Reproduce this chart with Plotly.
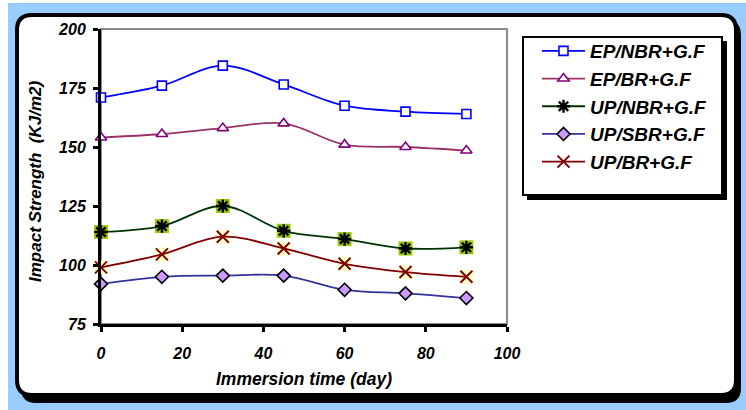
import plotly.graph_objects as go

# ---- data ----
days = [0, 15, 30, 45, 60, 75, 90]
ep_nbr = [171, 176, 184.5, 176.5, 167.5, 165, 164]
ep_br = [154, 155.5, 158, 160, 151, 150, 148.5]
up_nbr = [114, 116.5, 125, 114.5, 111, 107, 107.5]
up_sbr = [92, 95, 95.5, 95.5, 89.5, 88, 86]
up_br = [99, 104.5, 112, 107, 100.5, 97, 95]
series_names = ["EP/NBR+G.F", "EP/BR+G.F", "UP/NBR+G.F", "UP/SBR+G.F", "UP/BR+G.F"]
x_ticks = [0, 20, 40, 60, 80, 100]
y_ticks = [75, 100, 125, 150, 175, 200]

W, H = 746, 410
L, R, T, B = 101, 507, 29, 324  # plot area pixel box
FONT = "Liberation Sans, Arial, sans-serif"


def px(x):
    return (x - L) / (R - L)


def py(y):
    return (B - y) / (B - T)


def rrect(x0, y0, x1, y1, r):
    rx, ry = r / (R - L), r / (B - T)
    X0, X1 = px(x0), px(x1)
    Y0, Y1 = py(y0), py(y1)  # Y0 top (larger), Y1 bottom
    return (f"M{X0+rx},{Y0} L{X1-rx},{Y0} Q{X1},{Y0} {X1},{Y0-ry} "
            f"L{X1},{Y1+ry} Q{X1},{Y1} {X1-rx},{Y1} L{X0+rx},{Y1} "
            f"Q{X0},{Y1} {X0},{Y1+ry} L{X0},{Y0-ry} Q{X0},{Y0} {X0+rx},{Y0} Z")


fig = go.Figure()

common = dict(x=days, mode="lines+markers", line_shape="spline", cliponaxis=False)

# background marker layers (no legend)
fig.add_trace(go.Scatter(x=days, y=up_nbr, mode="markers", cliponaxis=False, showlegend=False,
                         legendgroup="g3", hoverinfo="skip",
                         marker=dict(symbol="square", size=14, color="#99CC00", line=dict(width=0))))
fig.add_trace(go.Scatter(x=days, y=up_br, mode="markers", cliponaxis=False, showlegend=False,
                         legendgroup="g5", hoverinfo="skip",
                         marker=dict(symbol="square", size=14, color="#FFFFCC", line=dict(width=0))))

fig.add_trace(go.Scatter(y=ep_nbr, name=series_names[0], legendgroup="g1", **common,
                         line=dict(color="#0000FF", width=1.8),
                         marker=dict(symbol="square", size=9, color="white",
                                     line=dict(color="#0000FF", width=1.6))))
fig.add_trace(go.Scatter(y=ep_br, name=series_names[1], legendgroup="g2", **common,
                         line=dict(color="#993366", width=1.8),
                         marker=dict(symbol="triangle-up", size=10, color="white",
                                     line=dict(color="#800080", width=1.6))))
fig.add_trace(go.Scatter(y=up_nbr, name=series_names[2], legendgroup="g3", **common,
                         line=dict(color="#003300", width=1.8),
                         marker=dict(symbol="asterisk-open", size=11, color="black",
                                     line=dict(color="black", width=2.4))))
fig.add_trace(go.Scatter(y=up_sbr, name=series_names[3], legendgroup="g4", **common,
                         line=dict(color="#333399", width=1.8),
                         marker=dict(symbol="diamond", size=10, color="#CC99FF",
                                     line=dict(color="black", width=1.6))))
fig.add_trace(go.Scatter(y=up_br, name=series_names[4], legendgroup="g5", **common,
                         line=dict(color="#800000", width=1.8),
                         marker=dict(symbol="x-thin-open", size=12, color="#800000",
                                     line=dict(color="#800000", width=2))))

shapes = [
    # light blue background
    dict(type="rect", xref="paper", yref="paper", x0=px(8), x1=px(W), y0=py(H), y1=py(3),
         fillcolor="#99CCFF", line=dict(width=0), layer="below"),
    # frame shadow
    dict(type="path", xref="paper", yref="paper", path=rrect(21, 20, 741, 403, 15),
         fillcolor="black", line=dict(width=0), layer="below"),
    # white frame
    dict(type="path", xref="paper", yref="paper", path=rrect(17, 15, 736, 395, 15),
         fillcolor="white", line=dict(color="black", width=4), layer="below"),
    # plot border (gray top/right)
    dict(type="rect", xref="paper", yref="paper", x0=0, x1=1, y0=0, y1=1,
         fillcolor="rgba(0,0,0,0)", line=dict(color="#8C8C8C", width=2), layer="below"),
    # legend shadow
    dict(type="rect", xref="paper", yref="paper", x0=px(527), x1=px(727), y0=py(200), y1=py(41),
         fillcolor="black", line=dict(width=0), layer="below"),
    # legend box
    dict(type="rect", xref="paper", yref="paper", x0=px(523), x1=px(722), y0=py(195), y1=py(37),
         fillcolor="white", line=dict(color="black", width=2), layer="below"),
]

fig.update_layout(
    width=W, height=H,
    margin=dict(l=L, r=W - R, t=T, b=H - B),
    paper_bgcolor="white", plot_bgcolor="rgba(0,0,0,0)",
    font=dict(family=FONT, color="black"),
    shapes=shapes,
    showlegend=True,
    legend=dict(x=px(537), y=py(32), xanchor="left", yanchor="top",
                bgcolor="rgba(0,0,0,0)", borderwidth=0,
                font=dict(family=FONT, size=19, color="black", style="italic", weight="bold"),
                tracegroupgap=15, itemwidth=43, traceorder="normal"),
    annotations=[
        dict(text="Impact Strength  (KJ/m2)", xref="paper", yref="paper",
             x=px(35), y=py(181), xanchor="center", yanchor="middle", textangle=-90,
             showarrow=False,
             font=dict(family=FONT, size=17, style="italic", weight="bold", color="black")),
    ],
)

fig.update_xaxes(range=[0, 100], tickvals=x_ticks, ticktext=[str(v) for v in x_ticks],
                 showgrid=False, zeroline=False, showline=True, linecolor="black", linewidth=3,
                 ticks="outside", ticklen=5, tickwidth=2.5, tickcolor="black",
                 tickfont=dict(family=FONT, size=16, style="italic", weight="bold"),
                 ticklabelstandoff=8,
                 title=dict(text="Immersion time (day)", standoff=12,
                            font=dict(family=FONT, size=17.5, style="italic", weight="bold")))
fig.update_yaxes(range=[75, 200], tickvals=y_ticks, ticktext=[str(v) for v in y_ticks],
                 showgrid=False, zeroline=False, showline=True, linecolor="black", linewidth=3,
                 ticks="outside", ticklen=5, tickwidth=2.5, tickcolor="black",
                 tickfont=dict(family=FONT, size=16, style="italic", weight="bold"),
                 ticklabelstandoff=4)

fig.write_html("out.html")
